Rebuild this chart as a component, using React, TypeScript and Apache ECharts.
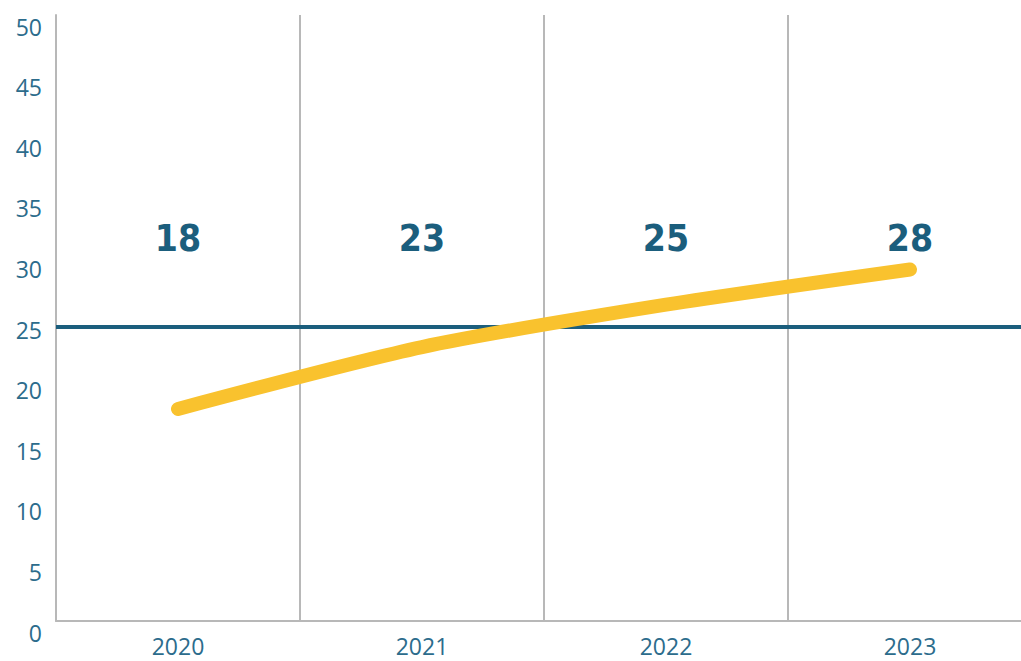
import React, { useEffect, useRef } from "react";
import * as echarts from "echarts";

const years = ["2020", "2021", "2022", "2023"];
const lineValues = [17.5, 22.6, 26.1, 29.0];
const valueLabels = ["18", "23", "25", "28"];
const labelLevel = [31.6, 31.6, 31.6, 31.6];
const referenceLevel = 24.3;

export default function App() {
  const ref = useRef<HTMLDivElement>(null);
  useEffect(() => {
    if (!ref.current) return;
    const chart = echarts.init(ref.current, null, { renderer: "svg" });
    const teal = "#1b5e7d";
    const tickColor = "#2c6c8c";
    chart.setOption({
      animation: false,
      backgroundColor: "#ffffff",
      grid: { left: 56, right: 0, top: 15, bottom: 40, containLabel: false },
      xAxis: {
        type: "category",
        data: years,
        boundaryGap: true,
        axisLine: { show: true, lineStyle: { color: "#b8b8b8", width: 2 } },
        axisTick: { show: false },
        splitLine: { show: true, lineStyle: { color: "#b8b8b8", width: 2 } },
        axisLabel: {
          color: tickColor,
          fontSize: 23,
          fontFamily: "'Open Sans', sans-serif",
          margin: 13,
        },
      },
      yAxis: {
        type: "value",
        min: 0,
        max: 50,
        interval: 5,
        axisLine: { show: true, lineStyle: { color: "#b8b8b8", width: 2 } },
        axisTick: { show: false },
        splitLine: { show: false },
        axisLabel: {
          color: tickColor,
          fontSize: 23,
          fontFamily: "'Open Sans', sans-serif",
          margin: 14,
          verticalAlign: "top",
        },
      },
      series: [
        {
          type: "line",
          data: lineValues,
          smooth: 0.25,
          symbol: "none",
          lineStyle: { color: "#f9c22e", width: 14, cap: "round", join: "round" },
          z: 5,
          markLine: {
            silent: true,
            symbol: "none",
            label: { show: false },
            lineStyle: { color: teal, width: 4, type: "solid" },
            data: [{ yAxis: referenceLevel }],
            z: 4,
          },
        },
        {
          type: "scatter",
          data: labelLevel,
          symbolSize: 1,
          silent: true,
          itemStyle: { color: "#ffffff", opacity: 1 },
          label: {
            show: true,
            position: "inside",
            formatter: (p: any) => valueLabels[p.dataIndex],
            color: teal,
            opacity: 1,
            textBorderWidth: 0,
            fontSize: 37,
            fontWeight: "bold",
            fontFamily: "'DejaVu Sans Condensed', sans-serif",
          },
          z: 6,
        },
      ],
    });
    return () => chart.dispose();
  }, []);
  return (
    <div
      style={{ position: "fixed", left: 0, top: 0, width: 1021, height: 661, overflow: "hidden", background: "#fff" }}
    >
      <div ref={ref} style={{ width: 1032, height: 661 }} />
    </div>
  );
}
